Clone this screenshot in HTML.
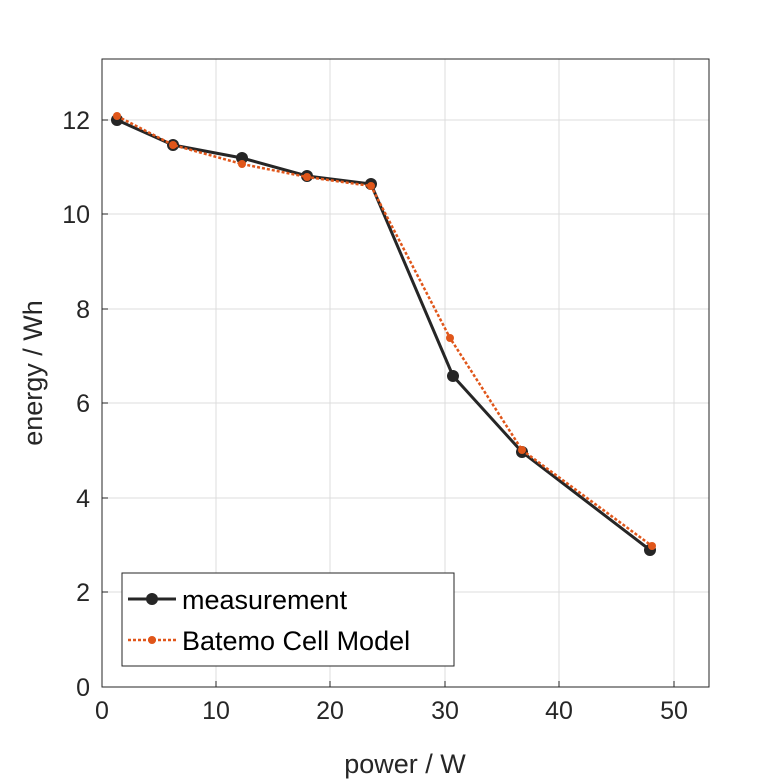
<!DOCTYPE html>
<html><head><style>body{margin:0;background:#fff}svg{display:block}</style></head><body>
<svg width="781" height="781" xmlns="http://www.w3.org/2000/svg" font-family="Liberation Sans, sans-serif">
<rect width="781" height="781" fill="#fff"/>
<g stroke="#dcdcdc" stroke-width="1">
<line x1="216" y1="59" x2="216" y2="687"/><line x1="330" y1="59" x2="330" y2="687"/><line x1="445" y1="59" x2="445" y2="687"/><line x1="559" y1="59" x2="559" y2="687"/><line x1="674" y1="59" x2="674" y2="687"/>
<line x1="102" y1="592" x2="709" y2="592"/><line x1="102" y1="498" x2="709" y2="498"/><line x1="102" y1="403" x2="709" y2="403"/><line x1="102" y1="309" x2="709" y2="309"/><line x1="102" y1="214" x2="709" y2="214"/><line x1="102" y1="120" x2="709" y2="120"/>
</g>
<rect x="102" y="59" width="607" height="628" fill="none" stroke="#262626" stroke-width="1"/>
<g stroke="#262626" stroke-width="1">
<line x1="216" y1="687" x2="216" y2="681"/><line x1="330" y1="687" x2="330" y2="681"/><line x1="445" y1="687" x2="445" y2="681"/><line x1="559" y1="687" x2="559" y2="681"/><line x1="674" y1="687" x2="674" y2="681"/>
<line x1="102" y1="592" x2="108" y2="592"/><line x1="102" y1="498" x2="108" y2="498"/><line x1="102" y1="403" x2="108" y2="403"/><line x1="102" y1="309" x2="108" y2="309"/><line x1="102" y1="214" x2="108" y2="214"/><line x1="102" y1="120" x2="108" y2="120"/>
</g>
<g font-size="25" fill="#262626" text-anchor="middle">
<text x="102" y="719">0</text><text x="216" y="719">10</text><text x="330" y="719">20</text><text x="445" y="719">30</text><text x="559" y="719">40</text><text x="674" y="719">50</text>
</g>
<g font-size="25" fill="#262626" text-anchor="end">
<text x="90" y="696">0</text><text x="90" y="601">2</text><text x="90" y="507">4</text><text x="90" y="412">6</text><text x="90" y="318">8</text><text x="90" y="223">10</text><text x="90" y="129">12</text>
</g>
<text x="405" y="773" font-size="27" fill="#262626" text-anchor="middle">power / W</text>
<text transform="translate(42,373) rotate(-90)" font-size="27" fill="#262626" text-anchor="middle">energy / Wh</text>
<polyline fill="none" stroke="#262626" stroke-width="3" points="117,120 173,145 242,158 307,176 371,184 453,376 522,452 650,550"/>
<g fill="#262626"><circle cx="117" cy="120" r="6"/><circle cx="173" cy="145" r="6"/><circle cx="242" cy="158" r="6"/><circle cx="307" cy="176" r="6"/><circle cx="371" cy="184" r="6"/><circle cx="453" cy="376" r="6"/><circle cx="522" cy="452" r="6"/><circle cx="650" cy="550" r="6"/></g>
<polyline fill="none" stroke="#e0561a" stroke-width="2.5" stroke-dasharray="3,2" points="117,116 173,145 242,164 307,177 371,186 450,338 522,450 652,546"/>
<g fill="#e0561a"><circle cx="117" cy="116" r="4"/><circle cx="173" cy="145" r="4"/><circle cx="242" cy="164" r="4"/><circle cx="307" cy="177" r="4"/><circle cx="371" cy="186" r="4"/><circle cx="450" cy="338" r="4"/><circle cx="522" cy="450" r="4"/><circle cx="652" cy="546" r="4"/></g>
<rect x="122" y="573" width="332" height="93" fill="#fff" stroke="#262626" stroke-width="1"/>
<line x1="128" y1="599" x2="176" y2="599" stroke="#262626" stroke-width="3"/><circle cx="152" cy="599" r="6" fill="#262626"/>
<text x="182" y="609" font-size="27" fill="#000">measurement</text>
<line x1="128" y1="640" x2="176" y2="640" stroke="#e0561a" stroke-width="2.5" stroke-dasharray="3,2"/><circle cx="152" cy="640" r="4" fill="#e0561a"/>
<text x="182" y="650" font-size="27" fill="#000">Batemo Cell Model</text>
</svg>
</body></html>
